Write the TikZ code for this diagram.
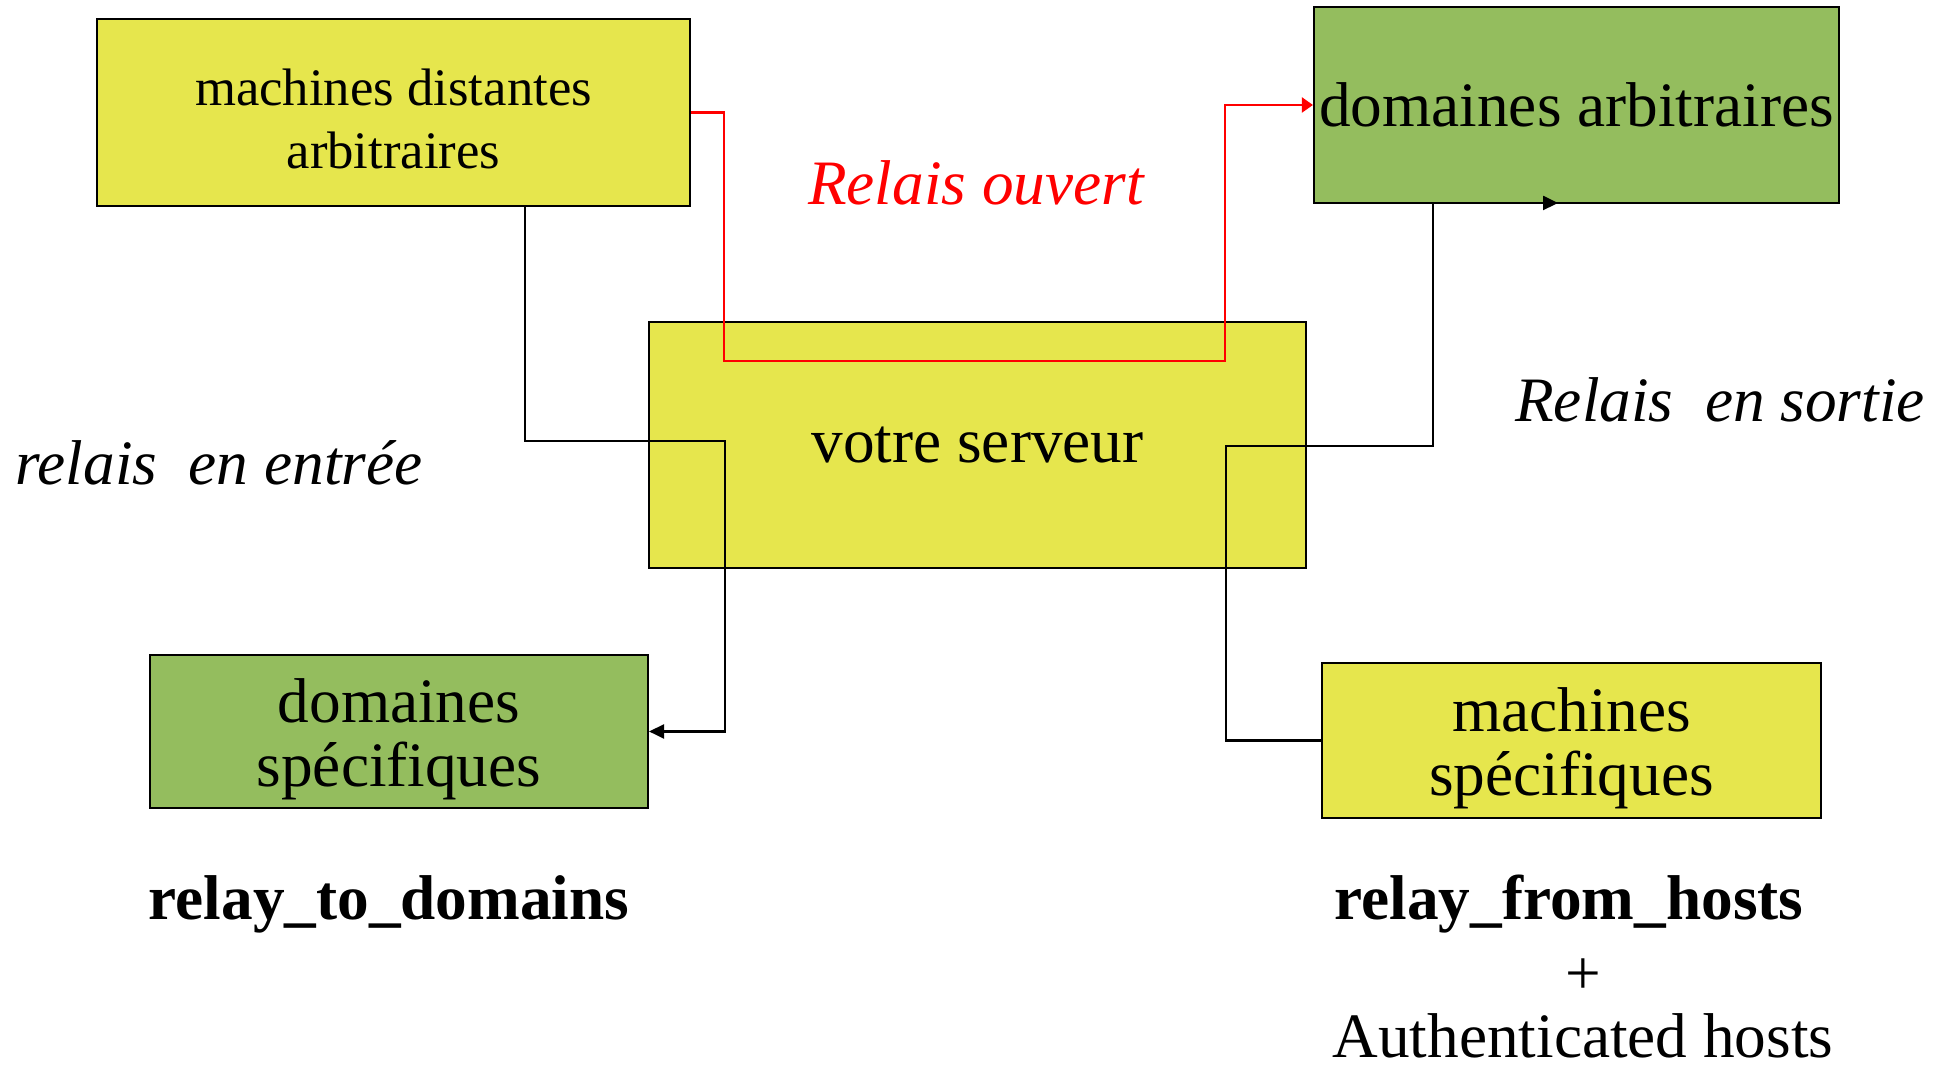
\documentclass[tikz,border=0pt]{standalone}
\usepackage{fontspec}
\setmainfont{Liberation Serif}
\usetikzlibrary{arrows.meta}
\definecolor{boxyellow}{RGB}{230,230,77}
\definecolor{boxgreen}{RGB}{148,189,94}
\begin{document}
\begin{tikzpicture}[
        every node/.style={font=\fontsize{18}{18}\selectfont},
        yellowbox/.style={rectangle, inner sep=0pt, align=center,
            draw=black, line width=0.6pt, fill=boxyellow},
        greenbox/.style={rectangle, inner sep=0pt, align=center,
            draw=black, line width=0.6pt, fill=boxgreen},
        relay/.style={-{Triangle[length=0.15cm, width=0.14cm]},
            draw=black, line width=0.7pt},
        openrelay/.style={-{Triangle[length=0.11cm, width=0.15cm]},
            draw=red, line width=0.6pt},
        note/.style={font=\fontsize{18}{18}\selectfont\itshape},
        param/.style={font=\fontsize{18}{18}\selectfont\bfseries}
      ]
      \useasboundingbox (0,0) rectangle (19.5,-10.69);
      \node[yellowbox, minimum width=5.93cm, minimum height=1.87cm,
        font=\fontsize{15}{18}\selectfont] (remote) at (3.935,-1.125)
      {\rule{0pt}{14pt}machines distantes\\arbitraires};
      \node[greenbox, minimum width=5.25cm, minimum height=1.96cm]
      (anydom) at (15.765,-1.05)
      {domaines arbitraires};
      \node[yellowbox, minimum width=6.57cm, minimum height=2.46cm]
      (server) at (9.775,-4.45)
      {votre serveur};
      \node[greenbox, minimum width=4.98cm, minimum height=1.53cm]
      (specdom) at (3.99,-7.315)
      {\rule{0pt}{17pt}domaines\\spécifiques};
      \node[yellowbox, minimum width=4.99cm, minimum height=1.55cm]
      (spechost) at (15.715,-7.405)
      {\rule{0pt}{17pt}machines\\spécifiques};
      \node[note, text=red] (open) at (9.76,-1.83) {Relais ouvert};
      \node[note] (inbound) at (2.19,-4.63) {relais~~en entrée};
      \node[note] (outbound) at (17.20,-4.00) {Relais~~en sortie};
      \node[param] (todomains) at (3.89,-9.04) {relay\_to\_domains};
      \node[param] (fromhosts) at (15.69,-9.04) {relay\_from\_hosts};
      \node (plus) at (15.83,-9.77) {+};
      \node (auth) at (15.83,-10.36) {Authenticated hosts};
      % open relay path through the server
      \coordinate (r1) at (7.24,-3.61);
      \coordinate (r2) at (12.25,-3.61);
      \draw[openrelay] (remote.east) -| (r1) -- (r2) |- (anydom.west);
      % inbound relay
      \coordinate (in0) at (5.25,-2.06);
      \coordinate (in1) at (5.25,-4.41);
      \coordinate (in2) at (7.25,-4.41);
      \draw[relay] (in0) -- (in1) -- (in2) |- (specdom.east);
      % outbound relay
      \coordinate (o1) at (12.26,-4.46);
      \coordinate (o2) at (14.33,-4.46);
      \coordinate (o3) at (15.58,-2.03);
      \draw[relay] (spechost.west) -| (o1) -- (o2) |- (o3);
    \end{tikzpicture}
\end{document}
